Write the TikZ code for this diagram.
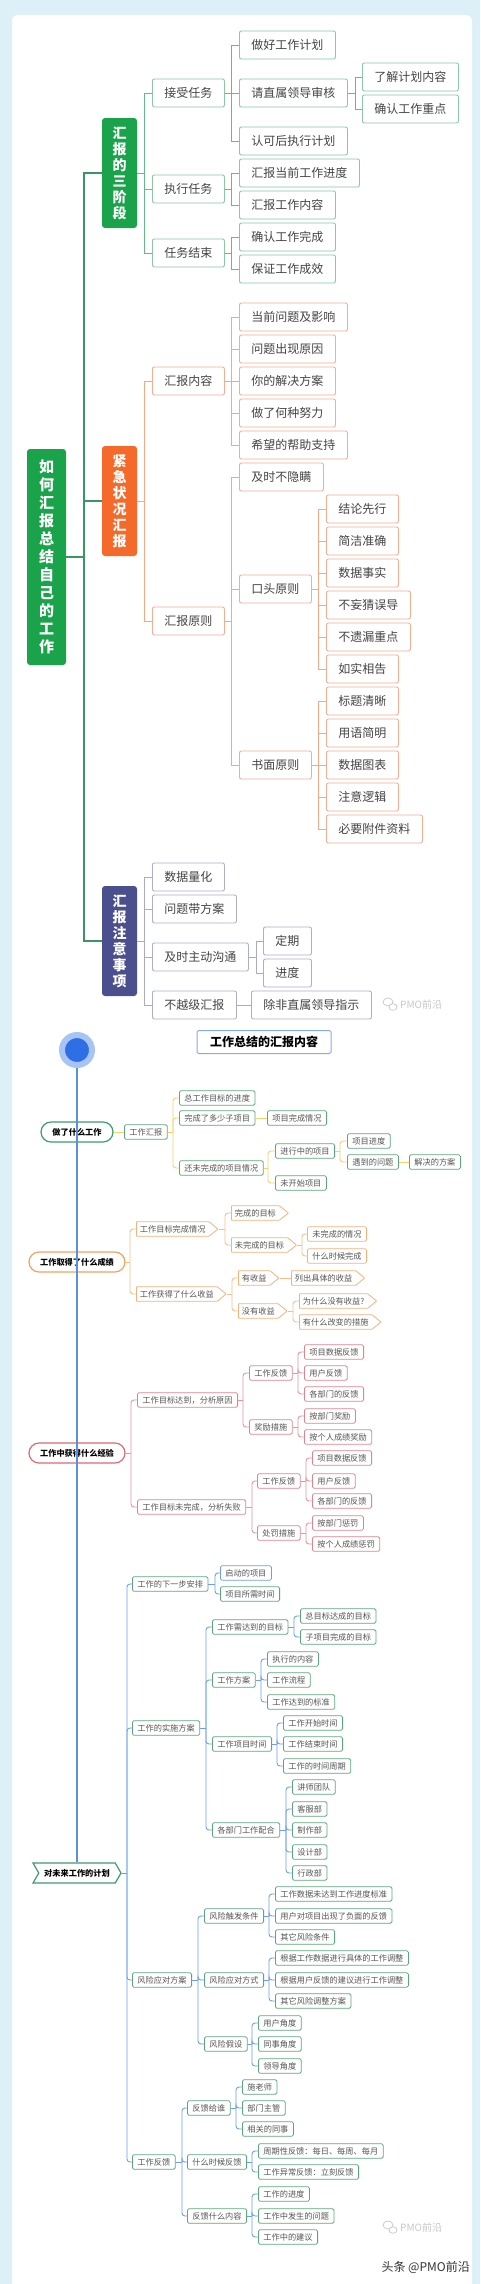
\documentclass[tikz,border=0pt]{standalone}
\usepackage{fontspec}
\setmainfont{Noto Sans CJK SC}
\usetikzlibrary{shapes.symbols,shapes.misc}
\definecolor{bgblue}{HTML}{DDF0F8}
\definecolor{gfill}{HTML}{1AA34A}
\definecolor{ofill}{HTML}{F5692A}
\definecolor{pfill}{HTML}{4C4F8E}
\definecolor{rootline}{HTML}{3A9465}
\definecolor{lineG}{HTML}{69B88C}
\definecolor{bordG}{HTML}{8CC7A5}
\definecolor{lineO}{HTML}{F5A886}
\definecolor{bordO}{HTML}{F3AE92}
\definecolor{lineP}{HTML}{A9AAC8}
\definecolor{bordP}{HTML}{ADAECB}
\definecolor{txt}{HTML}{444444}
\definecolor{txtb}{HTML}{555555}
\definecolor{lgreen}{HTML}{5DA67D}
\definecolor{yline}{HTML}{F2D36E}
\definecolor{orline}{HTML}{F5BE8F}
\definecolor{orbord}{HTML}{F2B27E}
\definecolor{pkline}{HTML}{E8959C}
\definecolor{pkbord}{HTML}{E0838C}
\definecolor{blline}{HTML}{6C9FE4}
\definecolor{mgreen}{HTML}{3E9C6E}
\definecolor{morange}{HTML}{F0A35E}
\definecolor{mpink}{HTML}{D96A74}
\definecolor{tblue}{HTML}{86ACE6}
\definecolor{cblue}{HTML}{2F6FE6}
\definecolor{chalo}{HTML}{A8C4F4}
\definecolor{mainblue}{HTML}{5C8FE0}
\definecolor{wmgray}{HTML}{C8C8C8}
\newcommand\cn[4]{\path (#3.west) ++(-#4,0) coordinate (bz);
\draw[#1] (#2.east) -- (bz |- #2.east);
\draw[rounded corners=3pt,#1] (bz |- #2.east) |- (#3.west);}
\begin{document}
\begin{tikzpicture}[x=1pt,y=-1pt,
 ub/.style={draw, fill=white, rounded corners=2pt, minimum height=28, inner xsep=12pt, inner ysep=0pt, anchor=west, font=\fontsize{12}{12}\selectfont, text=txt, line width=0.9pt},
 ubg/.style={ub, draw=bordG}, ubo/.style={ub, draw=bordO}, ubp/.style={ub, draw=bordP},
 lone/.style={fill=#1, rounded corners=3pt, text=white, font=\fontsize{14}{16}\selectfont\bfseries, align=center, minimum width=35, minimum height=110, inner sep=0pt},
 cG/.style={draw=lineG, line width=1pt, sharp corners},
 cO/.style={draw=lineO, line width=1pt, sharp corners},
 cP/.style={draw=lineP, line width=1pt, sharp corners},
 cRoot/.style={draw=rootline, line width=1.4pt, sharp corners},
 lb/.style={draw=lgreen, fill=white, rounded corners=1.5pt, minimum height=14.5, inner xsep=5pt, inner ysep=0pt, anchor=west, font=\fontsize{8.2}{8.2}\selectfont, text=txtb, line width=0.8pt},
 lbo/.style={lb, draw=orbord},
 lsig/.style={lb, draw=orbord, shape=signal, signal to=east, signal from=nowhere, signal pointer angle=78, inner xsep=3.5pt, rounded corners=0.6pt},
 lbr/.style={lb, draw=pkbord},
 mn/.style={draw=#1, fill=white, line width=1.2pt, font=\fontsize{8.2}{8.2}\selectfont\bfseries, text=black, minimum height=20, inner ysep=0pt, inner xsep=4pt},
 cY/.style={draw=yline, line width=0.9pt},
 cOr/.style={draw=orline, line width=0.9pt},
 cR/.style={draw=pkline, line width=0.9pt},
 cB/.style={draw=blline, line width=0.9pt},
 wm/.style={text=wmgray, font=\fontsize{10}{10}\selectfont, anchor=west, inner sep=0pt}
]
\useasboundingbox (0,0) rectangle (480,2284);
\fill[bgblue] (0,0) rectangle (480,2284);
\fill[white, rounded corners=6pt] (12,15) rectangle (472,2296);

% ---------------- upper mind map ----------------
\node[lone=gfill, minimum width=39, minimum height=216, font=\fontsize{15}{18}\selectfont\bfseries] (root) at (46.5,557) {如\\何\\汇\\报\\总\\结\\自\\己\\的\\工\\作};
\node[lone=gfill] (L1) at (119.5,173) {汇\\报\\的\\三\\阶\\段};
\node[lone=ofill] (L2) at (119.5,501) {紧\\急\\状\\况\\汇\\报};
\node[lone=pfill] (L3) at (119.5,941) {汇\\报\\注\\意\\事\\项};

\node[ubg] (a1) at (152,93) {接受任务};
\node[ubg] (a2) at (152,189) {执行任务};
\node[ubg] (a3) at (152,253) {任务结束};
\node[ubg] (b1) at (239,45) {做好工作计划};
\node[ubg] (b2) at (239,93) {请直属领导审核};
\node[ubg] (b3) at (239,141) {认可后执行计划};
\node[ubg] (c1) at (362,77) {了解计划内容};
\node[ubg] (c2) at (362,109) {确认工作重点};
\node[ubg] (b4) at (239,173) {汇报当前工作进度};
\node[ubg] (b5) at (239,205) {汇报工作内容};
\node[ubg] (b6) at (239,237) {确认工作完成};
\node[ubg] (b7) at (239,269) {保证工作成效};

\node[ubo] (d1) at (152,381) {汇报内容};
\node[ubo] (d2) at (152,621) {汇报原则};
\node[ubo] (e1) at (239,317) {当前问题及影响};
\node[ubo] (e2) at (239,349) {问题出现原因};
\node[ubo] (e3) at (239,381) {你的解决方案};
\node[ubo] (e4) at (239,413) {做了何种努力};
\node[ubo] (e5) at (239,445) {希望的帮助支持};
\node[ubo] (f1) at (239,477) {及时不隐瞒};
\node[ubo] (f2) at (239,589) {口头原则};
\node[ubo] (f3) at (239,765) {书面原则};
\node[ubo] (g1) at (326,509) {结论先行};
\node[ubo] (g2) at (326,541) {简洁准确};
\node[ubo] (g3) at (326,573) {数据事实};
\node[ubo] (g4) at (326,605) {不妄猜误导};
\node[ubo] (g5) at (326,637) {不遗漏重点};
\node[ubo] (g6) at (326,669) {如实相告};
\node[ubo] (h1) at (326,701) {标题清晰};
\node[ubo] (h2) at (326,733) {用语简明};
\node[ubo] (h3) at (326,765) {数据图表};
\node[ubo] (h4) at (326,797) {注意逻辑};
\node[ubo] (h5) at (326,829) {必要附件资料};

\node[ubp] (i1) at (152,877) {数据量化};
\node[ubp] (i2) at (152,909) {问题带方案};
\node[ubp] (i3) at (152,957) {及时主动沟通};
\node[ubp] (i4) at (152,1005) {不越级汇报};
\node[ubp] (j1) at (263,941) {定期};
\node[ubp] (j2) at (263,973) {进度};
\node[ubp] (j3) at (251,1005) {除非直属领导指示};

\cn{cRoot}{root}{L1}{18}\cn{cRoot}{root}{L2}{18}\cn{cRoot}{root}{L3}{18}
\cn{cG}{L1}{a1}{8}\cn{cG}{L1}{a2}{8}\cn{cG}{L1}{a3}{8}
\cn{cG}{a1}{b1}{8}\cn{cG}{a1}{b2}{8}\cn{cG}{a1}{b3}{8}
\cn{cG}{b2}{c1}{7}\cn{cG}{b2}{c2}{7}
\cn{cG}{a2}{b4}{8}\cn{cG}{a2}{b5}{8}
\cn{cG}{a3}{b6}{8}\cn{cG}{a3}{b7}{8}
\cn{cO}{L2}{d1}{8}\cn{cO}{L2}{d2}{8}
\cn{cO}{d1}{e1}{8}\cn{cO}{d1}{e2}{8}\cn{cO}{d1}{e3}{8}\cn{cO}{d1}{e4}{8}\cn{cO}{d1}{e5}{8}
\cn{cO}{d2}{f1}{8}\cn{cO}{d2}{f2}{8}\cn{cO}{d2}{f3}{8}
\cn{cO}{f2}{g1}{8}\cn{cO}{f2}{g2}{8}\cn{cO}{f2}{g3}{8}\cn{cO}{f2}{g4}{8}\cn{cO}{f2}{g5}{8}\cn{cO}{f2}{g6}{8}
\cn{cO}{f3}{h1}{8}\cn{cO}{f3}{h2}{8}\cn{cO}{f3}{h3}{8}\cn{cO}{f3}{h4}{8}\cn{cO}{f3}{h5}{8}
\cn{cP}{L3}{i1}{8}\cn{cP}{L3}{i2}{8}\cn{cP}{L3}{i3}{8}\cn{cP}{L3}{i4}{8}
\cn{cP}{i3}{j1}{7}\cn{cP}{i3}{j2}{7}
\draw[cP] (i4.east) -- (j3.west);

\draw[wmgray, line width=0.7pt] (388,1002) ellipse (5 and 4);
\draw[wmgray, line width=0.7pt, fill=white] (393,1007) ellipse (4 and 3.3);
\node[wm] (wm1) at (400,1005) {PMO前沿};

% ---------------- lower mind map ----------------
\node[draw=tblue, line width=1pt, fill=white, minimum width=134, minimum height=23, inner sep=0pt, font=\fontsize{12}{12}\selectfont\bfseries, rounded corners=1.5pt] (T) at (264,1042) {工作总结的汇报内容};
\node[circle, fill=cblue, draw=chalo, line width=6pt, minimum size=30, inner sep=0pt] (circ) at (77,1050) {};

\node[mn=mgreen, rounded corners=10pt, minimum width=72] (M1) at (77,1132) {做了什么工作};
\node[mn=morange, rounded corners=10pt, minimum width=96] (M2) at (77,1262) {工作取得了什么成绩};
\node[mn=mpink, rounded corners=10pt, minimum width=96] (M3) at (77,1453) {工作中获得什么经验};
\node[mn=mgreen, shape=signal, signal from=west, signal to=east, signal pointer angle=120, minimum width=88] (M4) at (77,1873) {对未来工作的计划};

% group 1
\node[lb] (y1) at (124,1132) {工作汇报};
\node[lb] (y2) at (179,1098) {总工作目标的进度};
\node[lb] (y3) at (179,1118) {完成了多少子项目};
\node[lb] (y4) at (267,1118) {项目完成情况};
\node[lb] (y5) at (179,1168) {还未完成的项目情况};
\node[lb] (y6) at (275,1151) {进行中的项目};
\node[lb] (y7) at (275,1183) {未开始项目};
\node[lb] (y8) at (347,1141) {项目进度};
\node[lb] (y9) at (347,1162) {遇到的问题};
\node[lb] (y10) at (409,1162) {解决的方案};
\draw[cY] (M1.east) -- (y1.west);
\cn{cY}{y1}{y2}{6}\cn{cY}{y1}{y3}{6}\cn{cY}{y1}{y5}{6}
\draw[cY] (y3.east) -- (y4.west);
\cn{cY}{y5}{y6}{7}\cn{cY}{y5}{y7}{7}
\cn{cY}{y6}{y8}{7}\cn{cY}{y6}{y9}{7}
\draw[cY] (y9.east) -- (y10.west);

% group 2
\node[lsig] (o1) at (136,1229) {工作目标完成情况};
\node[lsig] (o2) at (136,1294) {工作获得了什么收益};
\node[lsig] (o3) at (231,1213) {完成的目标};
\node[lsig] (o4) at (231,1245) {未完成的目标};
\node[lbo] (o5) at (307,1234) {未完成的情况};
\node[lbo] (o6) at (307,1256) {什么时候完成};
\node[lsig] (o7) at (238,1278) {有收益};
\node[lsig] (o8) at (291,1278) {列出具体的收益};
\node[lsig] (o9) at (238,1311) {没有收益};
\node[lsig] (o10) at (299,1301) {为什么没有收益?};
\node[lsig] (o11) at (299,1322) {有什么改变的措施};
\cn{cOr}{M2}{o1}{6}\cn{cOr}{M2}{o2}{6}
\cn{cOr}{o1}{o3}{6}\cn{cOr}{o1}{o4}{6}
\cn{cOr}{o4}{o5}{5}\cn{cOr}{o4}{o6}{5}
\cn{cOr}{o2}{o7}{6}\cn{cOr}{o2}{o9}{6}
\draw[cOr] (o7.east) -- (o8.west);
\cn{cOr}{o9}{o10}{6}\cn{cOr}{o9}{o11}{6}

% group 3
\node[lbr] (r1) at (137,1400) {工作目标达到，分析原因};
\node[lbr] (r2) at (137,1507) {工作目标未完成，分析失败};
\node[lbr] (r3) at (249,1373) {工作反馈};
\node[lbr] (r4) at (249,1427) {奖励措施};
\node[lbr] (r5) at (304,1352) {项目数据反馈};
\node[lbr] (r6) at (304,1373) {用户反馈};
\node[lbr] (r7) at (304,1394) {各部门的反馈};
\node[lbr] (r8) at (304,1416) {按部门奖励};
\node[lbr] (r9) at (304,1437) {按个人成绩奖励};
\node[lbr] (r10) at (257,1481) {工作反馈};
\node[lbr] (r11) at (257,1533) {处罚措施};
\node[lbr] (r12) at (312,1458) {项目数据反馈};
\node[lbr] (r13) at (312,1481) {用户反馈};
\node[lbr] (r14) at (312,1501) {各部门的反馈};
\node[lbr] (r15) at (312,1523) {按部门惩罚};
\node[lbr] (r16) at (312,1544) {按个人成绩惩罚};
\cn{cR}{M3}{r1}{6}\cn{cR}{M3}{r2}{6}
\cn{cR}{r1}{r3}{6}\cn{cR}{r1}{r4}{6}
\cn{cR}{r3}{r5}{6}\cn{cR}{r3}{r6}{6}\cn{cR}{r3}{r7}{6}
\cn{cR}{r4}{r8}{6}\cn{cR}{r4}{r9}{6}
\cn{cR}{r2}{r10}{5}\cn{cR}{r2}{r11}{5}
\cn{cR}{r10}{r12}{6}\cn{cR}{r10}{r13}{6}\cn{cR}{r10}{r14}{6}
\cn{cR}{r11}{r15}{6}\cn{cR}{r11}{r16}{6}

% group 4
\node[lb] (p1) at (132,1584) {工作的下一步安排};
\node[lb] (p2) at (132,1728) {工作的实施方案};
\node[lb] (p3) at (132,1980) {风险应对方案};
\node[lb] (p4) at (132,2162) {工作反馈};
\node[lb, draw=blline] (q1) at (220,1573) {启动的项目};
\node[lb] (q2) at (220,1594) {项目所需时间};
\node[lb] (q3) at (212,1627) {工作需达到的目标};
\node[lb] (q4) at (212,1680) {工作方案};
\node[lb] (q5) at (212,1744) {工作项目时间};
\node[lb] (q6) at (212,1830) {各部门工作配合};
\node[lb] (s1) at (300,1616) {总目标达成的目标};
\node[lb] (s2) at (300,1637) {子项目完成的目标};
\node[lb] (s3) at (267,1659) {执行的内容};
\node[lb] (s4) at (267,1680) {工作流程};
\node[lb] (s5) at (267,1702) {工作达到的标准};
\node[lb] (s6) at (283,1723) {工作开始时间};
\node[lb] (s7) at (283,1744) {工作结束时间};
\node[lb] (s8) at (283,1766) {工作的时间周期};
\node[lb] (s9) at (292,1787) {讲师团队};
\node[lb] (s10) at (292,1809) {客服部};
\node[lb] (s11) at (292,1830) {制作部};
\node[lb] (s12) at (292,1852) {设计部};
\node[lb] (s13) at (292,1873) {行政部};
\node[lb] (q7) at (204,1916) {风险触发条件};
\node[lb] (q8) at (204,1980) {风险应对方式};
\node[lb] (q9) at (204,2044) {风险假设};
\node[lb] (t1) at (275,1894) {工作数据未达到工作进度标准};
\node[lb] (t2) at (275,1916) {用户对项目出现了负面的反馈};
\node[lb] (t3) at (275,1937) {其它风险条件};
\node[lb] (t4) at (275,1958) {根据工作数据进行具体的工作调整};
\node[lb] (t5) at (275,1980) {根据用户反馈的建议进行工作调整};
\node[lb] (t6) at (275,2001) {其它风险调整方案};
\node[lb] (t7) at (258,2023) {用户角度};
\node[lb] (t8) at (258,2044) {同事角度};
\node[lb] (t9) at (258,2066) {领导角度};
\node[lb] (q10) at (187,2108) {反馈给谁};
\node[lb] (q11) at (187,2162) {什么时候反馈};
\node[lb] (q12) at (187,2216) {反馈什么内容};
\node[lb] (u1) at (242,2087) {施老师};
\node[lb] (u2) at (242,2108) {部门主管};
\node[lb] (u3) at (242,2129) {相关的同事};
\node[lb] (u4) at (258,2151) {周期性反馈：每日、每周、每月};
\node[lb] (u5) at (258,2172) {工作异常反馈：立刻反馈};
\node[lb] (u6) at (258,2194) {工作的进度};
\node[lb] (u7) at (258,2216) {工作中发生的问题};
\node[lb] (u8) at (258,2237) {工作中的建议};
\cn{cB}{M4}{p1}{5}\cn{cB}{M4}{p2}{5}\cn{cB}{M4}{p3}{5}\cn{cB}{M4}{p4}{5}
\cn{cB}{p1}{q1}{5}\cn{cB}{p1}{q2}{5}
\cn{cB}{p2}{q3}{6}\cn{cB}{p2}{q4}{6}\cn{cB}{p2}{q5}{6}\cn{cB}{p2}{q6}{6}
\cn{cB}{q3}{s1}{6}\cn{cB}{q3}{s2}{6}
\cn{cB}{q4}{s3}{6}\cn{cB}{q4}{s4}{6}\cn{cB}{q4}{s5}{6}
\cn{cB}{q5}{s6}{6}\cn{cB}{q5}{s7}{6}\cn{cB}{q5}{s8}{6}
\cn{cB}{q6}{s9}{6}\cn{cB}{q6}{s10}{6}\cn{cB}{q6}{s11}{6}\cn{cB}{q6}{s12}{6}\cn{cB}{q6}{s13}{6}
\cn{cB}{p3}{q7}{6}\cn{cB}{p3}{q8}{6}\cn{cB}{p3}{q9}{6}
\cn{cB}{q7}{t1}{6}\cn{cB}{q7}{t2}{6}\cn{cB}{q7}{t3}{6}
\cn{cB}{q8}{t4}{6}\cn{cB}{q8}{t5}{6}\cn{cB}{q8}{t6}{6}
\cn{cB}{q9}{t7}{6}\cn{cB}{q9}{t8}{6}\cn{cB}{q9}{t9}{6}
\cn{cB}{p4}{q10}{5}\cn{cB}{p4}{q11}{5}\cn{cB}{p4}{q12}{5}
\cn{cB}{q10}{u1}{6}\cn{cB}{q10}{u2}{6}\cn{cB}{q10}{u3}{6}
\cn{cB}{q11}{u4}{6}\cn{cB}{q11}{u5}{6}
\cn{cB}{q12}{u6}{6}\cn{cB}{q12}{u7}{6}\cn{cB}{q12}{u8}{6}

% main timeline
\draw[mainblue, line width=1.6pt] (circ.south) -- (M4.north);

\draw[wmgray, line width=0.7pt] (388,2225) ellipse (5 and 4);
\draw[wmgray, line width=0.7pt, fill=white] (393,2230) ellipse (4 and 3.3);
\node[wm] (wm2) at (400,2228) {PMO前沿};
\node[anchor=east, inner sep=0pt, font=\fontsize{12}{12}\selectfont, text=black!80] (tt) at (470,2267) {头条 @PMO前沿};
\end{tikzpicture}
\end{document}
